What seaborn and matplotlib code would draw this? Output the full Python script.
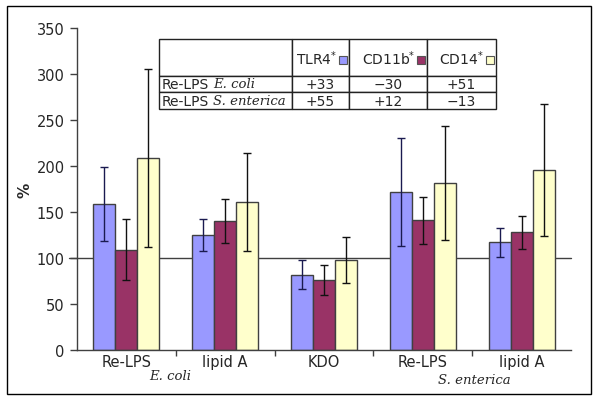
import matplotlib
matplotlib.use("Agg")
import matplotlib.pyplot as plt
import matplotlib.transforms as mtransforms
from matplotlib.patches import Rectangle
import pandas as pd
import seaborn as sns

# data
group_keys = ["ReLPS_Ec", "lipidA_Ec", "KDO", "ReLPS_Se", "lipidA_Se"]
tick_labels = ["Re-LPS", "lipid A", "KDO", "Re-LPS", "lipid A"]
markers = ["TLR4", "CD11b", "CD14"]
tlr4 = [159, 125, 82, 172, 117]
tlr4_err = [40, 17, 16, 59, 16]
cd11b = [109, 140, 76, 141, 128]
cd11b_err = [33, 24, 16, 26, 18]
cd14 = [209, 161, 98, 182, 196]
cd14_err = [97, 53, 25, 62, 72]

table_rows = ["Re-LPS", "Re-LPS"]
table_species = ["E. coli", "S. enterica"]
tlr4_change = ["+33", "+55"]
cd11b_change = ["\u221230", "+12"]
cd14_change = ["+51", "\u221213"]

colors = {"TLR4": "#9999ff", "CD11b": "#993366", "CD14": "#ffffcc"}
err_colors = {"TLR4": "#1a1a50", "CD11b": "#111111", "CD14": "#111111"}

sns.set_theme(style="white")
plt.rcParams["font.family"] = ["DejaVu Sans"]
plt.rcParams["mathtext.fontset"] = "dejavusans"

df = pd.DataFrame({
    "group": group_keys * 3,
    "marker": [m for m in markers for _ in group_keys],
    "value": tlr4 + cd11b + cd14,
})
errs = {"TLR4": tlr4_err, "CD11b": cd11b_err, "CD14": cd14_err}

fig = plt.figure(figsize=(6, 4.02), dpi=100)
ax = fig.add_axes([77 / 600, 51 / 402, 494 / 600, 321.7 / 402])

ax.axhline(100, xmin=-0.016, xmax=1.0, color="#404040", lw=1, clip_on=False, zorder=1)

sns.barplot(data=df, x="group", y="value", hue="marker", order=group_keys,
            hue_order=markers, palette=colors, saturation=1, width=0.67,
            edgecolor="#404040", linewidth=1, errorbar=None, legend=False,
            ax=ax, zorder=2)

for cont, m in zip(ax.containers, markers):
    xs = [b.get_x() + b.get_width() / 2 for b in cont]
    hs = [b.get_height() for b in cont]
    ax.errorbar(xs, hs, yerr=errs[m], fmt="none", ecolor=err_colors[m],
                elinewidth=1, capsize=3, capthick=1, zorder=3)

ax.set_xlim(-0.5, 4.5)
ax.set_ylim(0, 350)
ax.set_yticks(range(0, 351, 50))
ax.set_xticks(range(5))
ax.set_xticklabels(tick_labels)
ax.set_xticks([0.5, 1.5, 2.5, 3.5], minor=True)
ax.set_xlabel("")
ax.set_ylabel("%", fontsize=11, fontweight="bold")
ax.yaxis.set_label_coords(-0.091, 0.5)
for s in ["top", "right"]:
    ax.spines[s].set_visible(False)
for s in ["left", "bottom"]:
    ax.spines[s].set_color("#404040")
    ax.spines[s].set_linewidth(1)
ax.tick_params(axis="y", left=True, length=5, width=1, pad=4, labelsize=10.5, color="#404040")
ax.tick_params(axis="x", which="major", bottom=False, length=0, pad=3, labelsize=10.5)
ax.tick_params(axis="x", which="minor", bottom=True, length=4, width=1, color="#404040")

trans = mtransforms.blended_transform_factory(ax.transData, ax.transAxes)
ax.text(0.44, -0.078, table_species[0], transform=trans, family="DejaVu Serif",
        style="italic", fontsize=9.5, ha="center", va="center")
ax.text(3.52, -0.093, table_species[1], transform=trans, family="DejaVu Serif",
        style="italic", fontsize=9.5, ha="center", va="center")

# table in its own axes
tab_ax = fig.add_axes([159 / 600, (402 - 110) / 402, 337 / 600, 70 / 402])
tab_ax.axis("off")
col_px = [133, 57, 78, 69]
row_px = [37, 16, 17]
cell_text = [["", "", "", ""]] + [
    [r, a, b, c] for r, a, b, c in zip(table_rows, tlr4_change, cd11b_change, cd14_change)
]
tab = tab_ax.table(cellText=cell_text, colWidths=[w / 337 for w in col_px],
                   cellLoc="center", bbox=[0, 0, 1, 1])
tab.auto_set_font_size(False)
tab.set_fontsize(10)
for (r, c), cell in tab.get_celld().items():
    cell.set_height(row_px[r] / 70)
    cell.set_edgecolor("#222222")
    cell.set_linewidth(1)
    cell.set_facecolor("white")
    if c == 0:
        cell.PAD = 0.02
        cell._loc = "left"
        cell.get_text().set_ha("left")

# italic species names inside the row labels
row_mid = [(110 - 85) / 70, (110 - 101.5) / 70]
for name, y in zip(table_species, row_mid):
    tab_ax.text((213 - 159) / 337, y, name, family="DejaVu Serif", style="italic",
                fontsize=9.5, ha="left", va="center", zorder=6)

# header labels with colour squares
edges = [col_px[0]]
for w in col_px[1:]:
    edges.append(edges[-1] + w)
for i, m in enumerate(markers):
    r_px = edges[i + 1]
    tab_ax.text((r_px - 12) / 337, (110 - 59) / 70, m + "$^{*}$", ha="right",
                va="center", fontsize=10)
    tab_ax.add_patch(Rectangle(((r_px - 10) / 337, (110 - 65) / 70), 8 / 337, 8 / 70,
                               transform=tab_ax.transAxes, facecolor=colors[m],
                               edgecolor="#555555", lw=0.8, zorder=5, clip_on=False))

fig.add_artist(Rectangle((7 / 600, 7 / 402), 584 / 600, 388 / 402, transform=fig.transFigure,
                         fill=False, edgecolor="black", lw=1))

fig.savefig("out.png", dpi=100, facecolor="white")
